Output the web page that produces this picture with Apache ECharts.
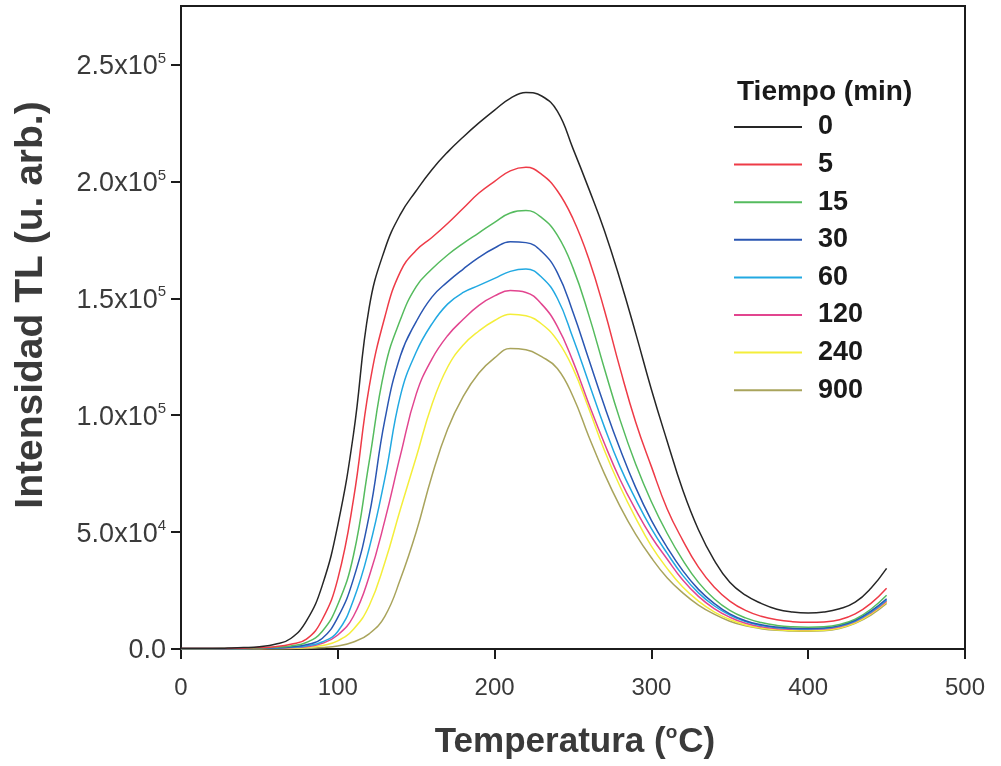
<!DOCTYPE html>
<html>
<head>
<meta charset="utf-8">
<script src="https://cdn.jsdelivr.net/npm/echarts@6/dist/echarts.min.js"></script>
<style>
  html, body { margin: 0; padding: 0; background: #ffffff; }
  #chart { width: 1001px; height: 766px; }
</style>
</head>
<body>
<div id="chart"></div>
<script>
// Temperatures (°C) at which the glow curves are sampled
const temps = [0, 10, 20, 30, 40, 50, 60, 70, 80, 90,
  100, 110, 120, 130, 140, 150, 160, 170, 180, 190,
  200, 210, 220, 230, 240, 250, 260, 270, 280, 290,
  300, 310, 320, 330, 340, 350, 360, 370, 380, 390,
  400, 410, 420, 430, 440, 450];

// TL intensity (arb. units) for each storage time
const t0 = [300, 300, 300, 400, 600, 1000, 2000, 4500, 12000, 27000,
  53000, 92000, 146000, 171000, 186000, 196000, 205000, 212500, 219000, 225000,
  230500, 235500, 238000, 236500, 230000, 214000, 197000, 179000, 158000, 135000,
  111000, 89000, 68000, 51000, 38000, 28500, 23000, 19500, 17000, 15800,
  15400, 15800, 17200, 20000, 26000, 34500];
const t5 = [200, 200, 200, 250, 350, 600, 1000, 2000, 4200, 12500,
  30000, 64000, 112000, 142000, 161500, 170500, 176000, 182000, 188500, 195000,
  200000, 204500, 206000, 203000, 196000, 184000, 167000, 145000, 120000, 97000,
  78000, 60000, 46500, 35000, 26500, 20500, 16500, 14000, 12500, 11700,
  11400, 11600, 12500, 15000, 19500, 26000];
const t15 = [150, 150, 150, 200, 250, 400, 700, 1300, 2800, 7500,
  19000, 40000, 80000, 120000, 141000, 155000, 162500, 168500, 173500, 178000,
  182500, 186500, 187500, 184500, 177000, 163000, 143000, 120000, 98000, 79000,
  63000, 49500, 38000, 28500, 21500, 16500, 13300, 11300, 10100, 9500,
  9300, 9500, 10500, 12800, 17000, 23000];
const t30 = [100, 100, 100, 150, 200, 300, 500, 900, 1800, 4500,
  13500, 30000, 57000, 98000, 125500, 140000, 150500, 157000, 162500, 167500,
  171500, 174200, 173800, 170000, 161000, 144000, 124000, 104000, 85500, 69000,
  55000, 43500, 33500, 25500, 19500, 15000, 12100, 10400, 9400, 8900,
  8800, 9000, 10000, 12300, 16200, 21500];
const t60 = [100, 100, 100, 120, 150, 250, 400, 700, 1300, 3000,
  7500, 21000, 43000, 73000, 108500, 127000, 139000, 147500, 152500, 155500,
  158500, 161500, 162500, 159000, 150000, 133000, 114000, 95000, 78000, 64000,
  51500, 41000, 31500, 24000, 18500, 14500, 11700, 10000, 9100, 8700,
  8600, 8800, 9800, 12000, 15800, 21000];
const t120 = [100, 100, 100, 100, 150, 200, 300, 500, 1000, 2400,
  6000, 14000, 31000, 55000, 83000, 109000, 124000, 134000, 141000, 147000,
  151000, 153300, 152500, 147500, 138000, 123000, 105000, 88000, 72500, 59500,
  48000, 38500, 29500, 22500, 17300, 13600, 11000, 9500, 8700, 8400,
  8300, 8500, 9500, 11700, 15500, 20500];
const t240 = [80, 80, 80, 80, 100, 150, 200, 300, 600, 1500,
  3500, 8500, 18500, 37000, 60000, 82000, 104500, 120500, 130000, 136000,
  140500, 143200, 142500, 139000, 132000, 120000, 103000, 85000, 69500, 56000,
  44000, 34500, 26500, 20500, 15900, 12600, 10300, 9000, 8200, 7900,
  7800, 8000, 9000, 11200, 15000, 20000];
const t900 = [50, 50, 50, 50, 50, 80, 100, 150, 250, 600,
  1300, 3000, 6500, 14000, 30000, 50000, 74000, 94000, 108000, 118000,
  124500, 128500, 128000, 125000, 120000, 108000, 91000, 75000, 61000, 49000,
  39000, 30500, 24000, 18800, 14900, 11900, 9900, 8700, 8000, 7700,
  7600, 7800, 8800, 11000, 14500, 19500];

// Legend entries (storage time, min) and line colours
const timeLabels = ['0', '5', '15', '30', '60', '120', '240', '900'];
const seriesValues = [t0, t5, t15, t30, t60, t120, t240, t900];
const lineColors = ['#262626', '#ee3b47', '#55bb5e', '#2a56b2', '#22a9e2', '#e2458f', '#f4ee3a', '#a9a45c'];

// Y tick labels written as mantissa x 10^exponent
const yTickValues = [0, 50000, 100000, 150000, 200000, 250000];
const yTickMantissa = ['0.0', '5.0', '1.0', '1.5', '2.0', '2.5'];
const yTickExponent = ['', '4', '5', '5', '5', '5'];
const xTickValues = [0, 100, 200, 300, 400, 500];

const axisColor = '#1c1c1c';
const textColor = '#3a3a3a';
const fontFamily = '"Liberation Sans", Arial, sans-serif';

const chart = echarts.init(document.getElementById('chart'), null, { renderer: 'canvas' });

const series = timeLabels.map((name, i) => ({
  name: name,
  type: 'line',
  data: temps.map((t, j) => [t, seriesValues[i][j]]),
  showSymbol: false,
  symbol: 'none',
  smooth: 0.45,
  lineStyle: { color: lineColors[i], width: 1.5 },
  itemStyle: { color: lineColors[i] },
  z: 10 - i
}));

chart.setOption({
  backgroundColor: '#ffffff',
  animation: false,
  title: {
    text: 'Tiempo (min)',
    left: 737,
    top: 78,
    padding: 0,
    textStyle: { fontFamily: fontFamily, fontSize: 28, fontWeight: 'bold', color: '#1a1a1a' }
  },
  legend: {
    orient: 'vertical',
    left: 734,
    top: 112,
    padding: 0,
    icon: 'rect',
    itemWidth: 68,
    itemHeight: 2,
    itemGap: 7.6,
    data: timeLabels,
    textStyle: {
      fontFamily: fontFamily, fontSize: 27, fontWeight: 'bold', color: '#1a1a1a',
      lineHeight: 30, padding: [0, 0, 0, 11]
    }
  },
  grid: {
    left: 181, right: 36, top: 6, bottom: 117,
    show: true, borderColor: axisColor, borderWidth: 2, backgroundColor: 'transparent'
  },
  xAxis: {
    type: 'value',
    min: 0, max: 500, interval: 100,
    axisLine: { show: true, lineStyle: { color: axisColor, width: 2 } },
    axisTick: { show: true, inside: false, length: 10, lineStyle: { color: axisColor, width: 2 }, customValues: xTickValues },
    axisLabel: { margin: 27, fontFamily: fontFamily, fontSize: 24, color: textColor, customValues: xTickValues },
    splitLine: { show: false }
  },
  yAxis: {
    type: 'value',
    min: 0, max: 275000,
    axisLine: { show: true, lineStyle: { color: axisColor, width: 2 } },
    axisTick: { show: true, inside: false, length: 10, lineStyle: { color: axisColor, width: 2 }, customValues: yTickValues },
    axisLabel: {
      margin: 15,
      customValues: yTickValues,
      formatter: function (v) {
        const k = yTickValues.indexOf(v);
        if (k < 0) return '';
        if (!yTickExponent[k]) return '{m|' + yTickMantissa[k] + '}';
        return '{m|' + yTickMantissa[k] + 'x10}{e|' + yTickExponent[k] + '}';
      },
      rich: {
        m: { fontFamily: fontFamily, fontSize: 27, color: textColor, padding: [4, 0, 0, 0] },
        e: { fontFamily: fontFamily, fontSize: 15, color: textColor, padding: [0, 0, 12, 0] }
      }
    },
    splitLine: { show: false }
  },
  graphic: [{
    type: 'text',
    x: 31, y: 305,
    rotation: Math.PI / 2,
    style: {
      text: 'Intensidad TL (u. arb.)',
      fontFamily: fontFamily, fontSize: 39, fontWeight: 'bold', fill: textColor,
      align: 'center', verticalAlign: 'middle'
    }
  }, {
    type: 'text',
    x: 575, y: 742,
    style: {
      text: 'Temperatura ({s|o}C)',
      fontFamily: fontFamily, fontSize: 35, fontWeight: 'bold', fill: textColor,
      align: 'center', verticalAlign: 'middle',
      rich: {
        s: { fontFamily: fontFamily, fontSize: 19, fontWeight: 'bold', fill: textColor, padding: [0, 1, 18, 0] }
      }
    }
  }],
  series: series
});
</script>
</body>
</html>
